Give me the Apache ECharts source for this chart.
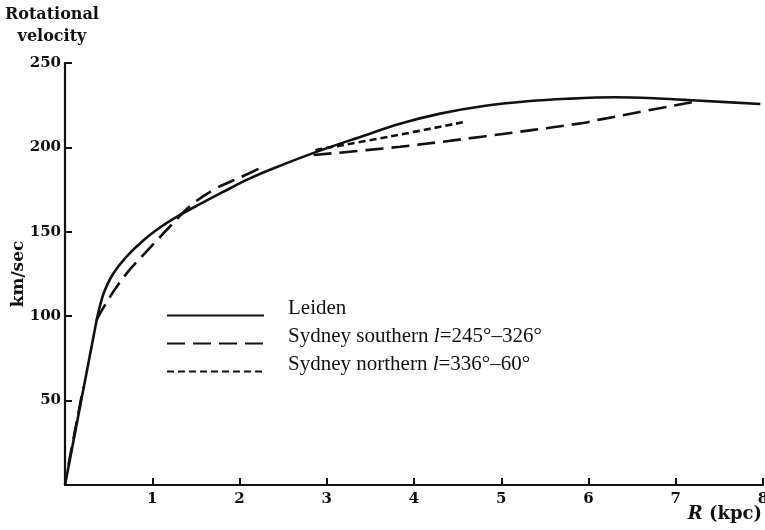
<!DOCTYPE html>
<html>
<head>
<meta charset="utf-8">
<script src="https://cdn.jsdelivr.net/npm/echarts@6/dist/echarts.min.js"></script>
<style>html,body{margin:0;padding:0;background:#fff;}#c{width:765px;height:530px;}</style>
</head>
<body>
<div id="c"></div>
<script>
// ---- data (R in kpc, V in km/sec) ----
var leidenCoreR = [0, 0.363];
var leidenCoreV = [0, 97.7];
var leidenR = [0.363, 0.40, 0.45, 0.55, 0.70, 0.90, 1.10, 1.30, 1.55, 1.80, 2.10, 2.40, 2.89, 3.40, 3.84, 4.30, 4.80, 5.30, 5.75, 6.30, 6.80, 7.24, 7.97];
var leidenV = [97.7, 106, 114.5, 125, 135, 145, 153, 159.5, 166.5, 173.3, 181.2, 187.8, 197.5, 206.5, 214, 220, 224.5, 227.3, 228.8, 229.7, 229, 227.8, 225.7];

var southInnerAR = [0.04, 0.21];
var southInnerAV = [12, 58];
var southInnerBR = [0.36, 0.516, 0.707, 0.898, 1.09, 1.2, 1.45, 1.74, 2.0, 2.27];
var southInnerBV = [97.7, 111.5, 125.4, 136.3, 147, 153, 166, 176, 182, 188.6];
var southOuterR = [2.85, 3.84, 4.80, 5.94, 6.14, 7.24];
var southOuterV = [195.5, 200.4, 206.5, 214.5, 216.6, 227.3];

var northR = [2.87, 3.73, 4.57];
var northV = [198.5, 206.5, 215];

var xTicks = [0, 1, 2, 3, 4, 5, 6, 7, 8];
var yTicks = [0, 50, 100, 150, 200, 250];

var nameLeiden = 'Leiden';
var nameSouth = 'Sydney southern l=245°–326°';
var nameNorth = 'Sydney northern l=336°–60°';

function pairs(xs, ys) { return xs.map(function (x, i) { return [x, ys[i]]; }); }

var INK = '#111';
var SERIF = '"Liberation Serif", "DejaVu Serif", serif';
var DSERIF = '"DejaVu Serif", "Liberation Serif", serif';
var southDash = [18, 8];
var northDash = [7, 4];

function lineSeries(name, xs, ys, dash, smooth) {
  return {
    name: name, type: 'line', data: pairs(xs, ys),
    symbol: 'circle', showSymbol: false, symbolSize: 0,
    smooth: smooth === undefined ? 0.35 : smooth,
    lineStyle: { color: INK, width: 2.6, type: dash || 'solid', cap: 'butt' },
    itemStyle: { color: INK },
    silent: true, z: dash ? 3 : 4
  };
}

var chart = echarts.init(document.getElementById('c'), null, { renderer: 'canvas' });
chart.setOption({
  animation: false,
  backgroundColor: '#fff',
  grid: { left: 65, right: 2, top: 63, bottom: 45, containLabel: false, outerBoundsMode: 'none' },
  xAxis: {
    type: 'value', min: xTicks[0], max: xTicks[xTicks.length - 1], interval: 1,
    axisLine: { lineStyle: { color: INK, width: 2.2 } },
    axisTick: { inside: true, length: 7, lineStyle: { color: INK, width: 2 } },
    axisLabel: {
      margin: 7, color: INK, fontFamily: DSERIF, fontSize: 15, fontWeight: 'bold',
      formatter: function (v) { return v === 0 ? '' : String(v); }
    },
    splitLine: { show: false }
  },
  yAxis: {
    type: 'value', min: yTicks[0], max: yTicks[yTicks.length - 1], interval: 50,
    name: 'km/sec', nameLocation: 'middle', nameGap: 38, nameMoveOverlap: false,
    nameTextStyle: { color: INK, fontFamily: DSERIF, fontSize: 17, fontWeight: 'bold' },
    axisLine: { lineStyle: { color: INK, width: 2.2 } },
    axisTick: { inside: true, length: 7, lineStyle: { color: INK, width: 2 } },
    axisLabel: {
      margin: 4, color: INK, fontFamily: DSERIF, fontSize: 15, fontWeight: 'bold',
      formatter: function (v) { return v === 0 ? '' : String(v); }
    },
    splitLine: { show: false }
  },
  legend: {
    orient: 'vertical', left: 161, top: 293,
    itemWidth: 97, itemHeight: 14, itemGap: -7,
    data: [nameLeiden, nameSouth, nameNorth],
    inactiveColor: INK,
    selectedMode: false,
    itemStyle: { opacity: 0, borderWidth: 0 },
    formatter: function (n) { return n.replace(' l=', ' {i|l}='); },
    textStyle: {
      color: INK, fontFamily: SERIF, fontSize: 21, lineHeight: 21,
      padding: [0, 0, 14, 19],
      rich: { i: { fontStyle: 'italic', fontFamily: SERIF, fontSize: 21, color: INK, lineHeight: 21 } }
    }
  },
  graphic: [
    { type: 'text', left: 5, top: 4,
      style: { text: 'Rotational\nvelocity', fill: INK, font: 'bold 16px ' + DSERIF, textAlign: 'center', lineHeight: 22 } },
    { type: 'text', right: 3, top: 505,
      style: { text: '{i|R} (kpc)', fill: INK, font: 'bold 18px ' + DSERIF,
        rich: { i: { fontStyle: 'italic', fontWeight: 'bold', fontSize: 18, fontFamily: DSERIF, fill: INK } } } }
  ],
  series: [
    lineSeries(nameLeiden, leidenCoreR, leidenCoreV, null, false),
    lineSeries(nameLeiden, leidenR, leidenV),
    lineSeries(nameSouth, southInnerAR, southInnerAV, southDash, false),
    lineSeries(nameSouth, southInnerBR, southInnerBV, southDash),
    lineSeries(nameSouth, southOuterR, southOuterV, southDash),
    lineSeries(nameNorth, northR, northV, northDash)
  ]
});
</script>
</body>
</html>
